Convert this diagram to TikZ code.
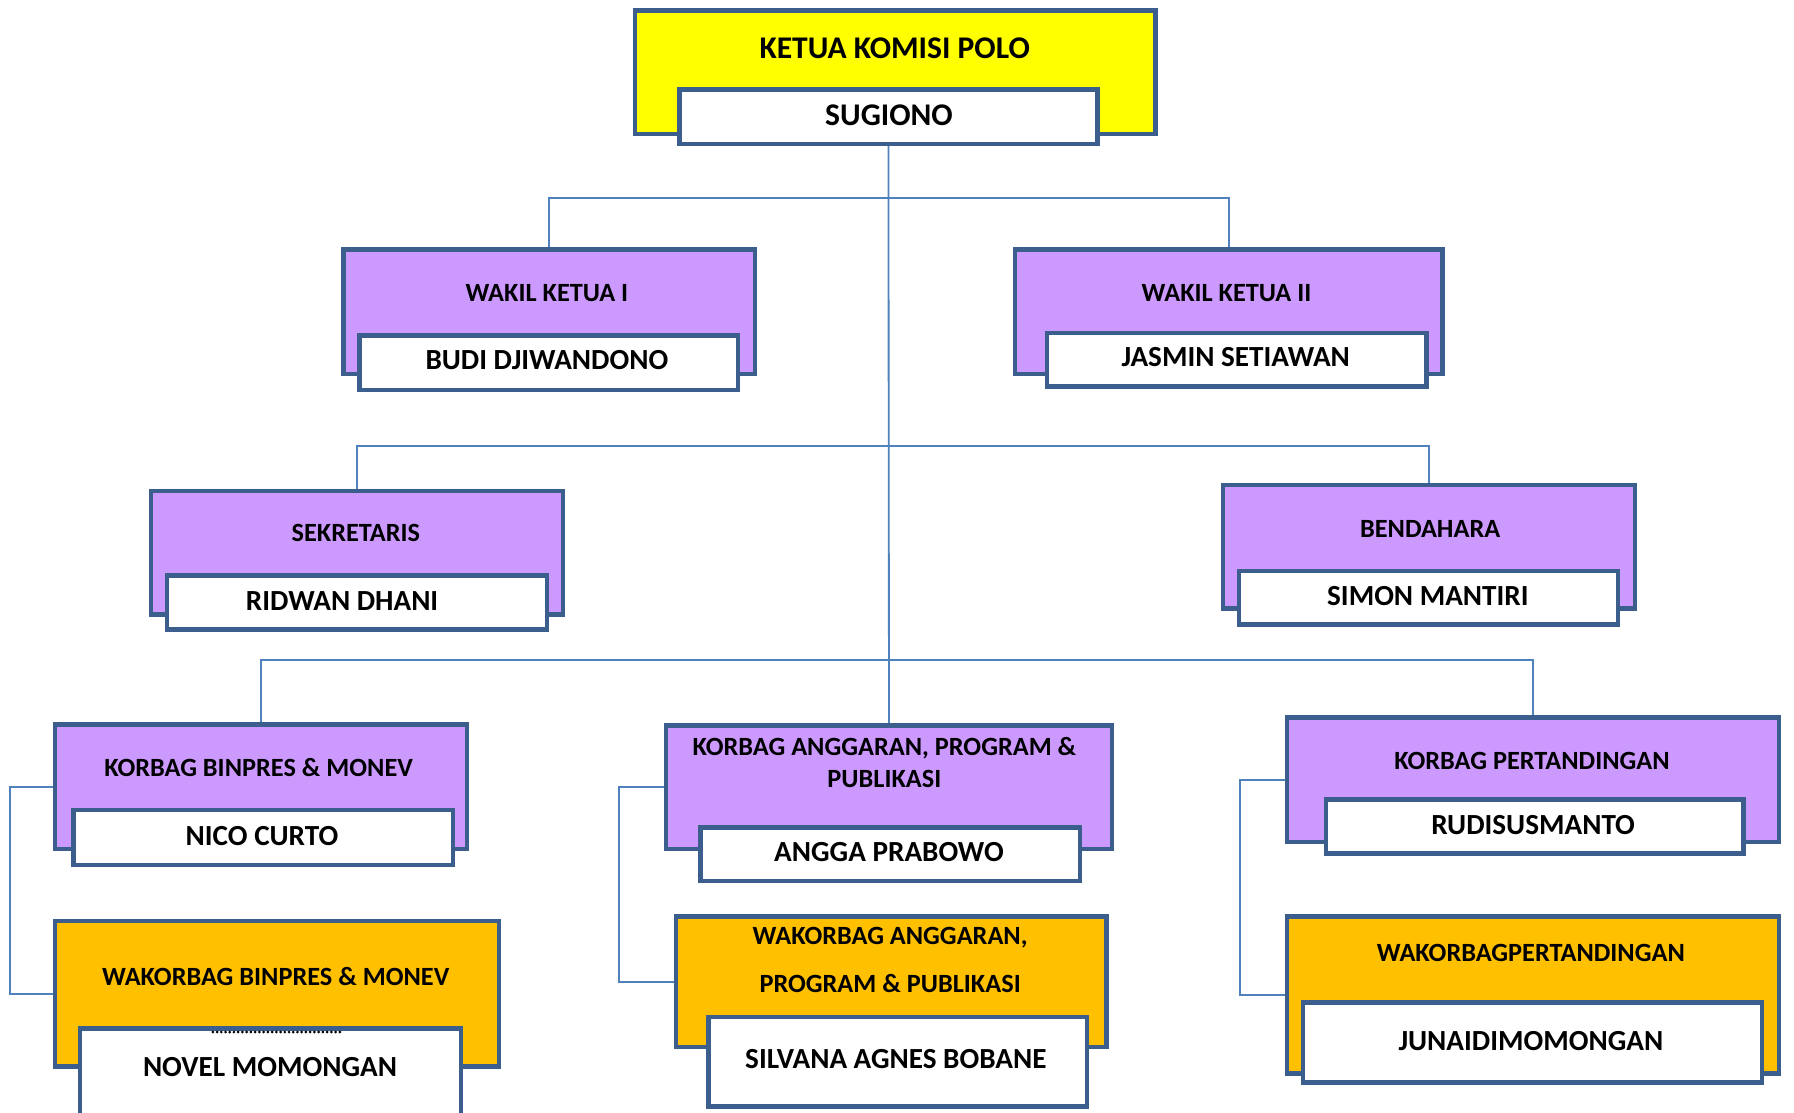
\documentclass[tikz,border=0pt]{standalone}
\usepackage{fontspec}
\setmainfont{Carlito}
\usetikzlibrary{backgrounds}
\definecolor{bord}{HTML}{3B5E8C}
\definecolor{conn}{HTML}{4F81BD}
\definecolor{purp}{HTML}{CC99FF}
\definecolor{oran}{HTML}{FFC000}
\definecolor{yell}{HTML}{FFFF00}
\newcommand\bx[6]{\node[#2, minimum width={(#5-#3-4)*1pt}, minimum height={(#6-#4-4)*1pt}] (#1) at ({(#3+#5)/2},{(#4+#6)/2}) {};}
\begin{document}
\begin{tikzpicture}[x=1pt,y=-1pt,
 outer/.style={draw=bord, line width=4pt, inner sep=0pt, outer sep=0pt},
 inner/.style={draw=bord, line width=4pt, fill=white, inner sep=0pt, outer sep=0pt},
 ttl/.style={font=\bfseries\fontsize{23}{27}\selectfont, inner sep=0pt, text height=14.8pt, text depth=0pt},
 nm/.style={font=\bfseries\fontsize{25.5}{30}\selectfont, inner sep=0pt, text height=16.4pt, text depth=0pt},
 big/.style={font=\bfseries\fontsize{27.6}{32}\selectfont, inner sep=0pt, text height=17.8pt, text depth=0pt},
 link/.style={draw=conn, line width=1.6pt}]
\clip (0,0) rectangle (1568,972);
% boxes
\bx{ketua}{outer,fill=yell}{553}{7}{1012}{119}
\bx{ketuaN}{inner}{592}{76}{961}{128}
\bx{wk1}{outer,fill=purp}{298}{216}{662}{329}
\bx{wk1N}{inner}{312}{291}{647}{343}
\bx{wk2}{outer,fill=purp}{885}{216}{1263}{329}
\bx{wk2N}{inner}{913}{289}{1249}{340}
\bx{sek}{outer,fill=purp}{130}{427}{494}{539}
\bx{sekN}{inner}{144}{501}{480}{552}
\bx{bend}{outer,fill=purp}{1067}{422}{1431}{534}
\bx{bendN}{inner}{1081}{497}{1416}{548}
\bx{kb}{outer,fill=purp}{46}{631}{410}{744}
\bx{kbN}{inner}{62}{706}{398}{758}
\bx{wkb}{outer,fill=oran}{46}{803}{438}{934}
\bx{wkbN}{inner}{68}{897}{405}{978}
\bx{ka}{outer,fill=purp}{580}{632}{974}{744}
\bx{kaN}{inner}{610}{721}{946}{772}
\bx{wka}{outer,fill=oran}{589}{799}{969}{917}
\bx{wkaN}{inner}{617}{887}{952}{969}
\bx{kp}{outer,fill=purp}{1123}{625}{1557}{738}
\bx{kpN}{inner}{1157}{697}{1526}{748}
\bx{wkp}{outer,fill=oran}{1123}{799}{1557}{940}
\bx{wkpN}{inner}{1137}{874}{1542}{948}
% texts
\node[big] (t1) at (782,42) {KETUA KOMISI POLO};
\node[big] (n1) at (777,101) {SUGIONO};
\node[ttl] (t2) at (478,256) {WAKIL KETUA I};
\node[nm] (n2) at (478,315) {BUDI DJIWANDONO};
\node[ttl] (t3) at (1072,256) {WAKIL KETUA II};
\node[nm] (n3) at (1080,312) {JASMIN SETIAWAN};
\node[ttl] (t4) at (311,466) {SEKRETARIS};
\node[nm] (n4) at (299,525) {RIDWAN DHANI};
\node[ttl] (t5) at (1250,462) {BENDAHARA};
\node[nm] (n5) at (1248,521) {SIMON MANTIRI};
\node[ttl] (t6) at (226,671) {KORBAG BINPRES \& MONEV};
\node[nm] (n6) at (229,731) {NICO CURTO};
\node[ttl] (t7) at (241,854) {WAKORBAG BINPRES \& MONEV};
\node[nm] (n7) at (236,933) {NOVEL MOMONGAN};
\node[ttl] (t8a) at (773,653) {KORBAG ANGGARAN, PROGRAM \&};
\node[ttl] (t8b) at (773,681) {PUBLIKASI};
\node[nm] (n8) at (777,745) {ANGGA PRABOWO};
\node[ttl] (t9a) at (778,818) {WAKORBAG ANGGARAN,};
\node[ttl] (t9b) at (778,860) {PROGRAM \& PUBLIKASI};
\node[nm] (n9) at (783,926) {SILVANA AGNES BOBANE};
\node[ttl] (t10) at (1339,665) {KORBAG PERTANDINGAN};
\node[nm] (n10) at (1340,721) {RUDISUSMANTO};
\node[ttl] (t11) at (1338,833) {WAKORBAGPERTANDINGAN};
\node[nm] (n11) at (1338,910) {JUNAIDIMOMONGAN};
\coordinate (d1) at (186,902);
\coordinate (d2) at (297,902);
\draw[black, line width=2.6pt, line cap=round, dash pattern=on 0pt off 3.7pt] (d1) -- (d2);
% connectors
\coordinate (j1) at (777,173);
\coordinate (j2) at (777,390);
\coordinate (j3) at (777,577);
\begin{pgfonlayer}{background}
\fill[white] (0,0) rectangle (1568,972);
\draw[link] (ketuaN.south) -- (ka.north);
\draw[link] (wk1.north) -- (wk1.north |- j1) -| (wk2.north);
\draw[link] (sek.north) -- (sek.north |- j2) -| (bend.north);
\draw[link] (kb.north) -- (kb.north |- j3) -| (kp.north);
\draw[link] (kb.west) -- ++(-39,0) |- (wkb.west);
\draw[link] (ka.west) -- ++(-41,0) |- (wka.west);
\draw[link] (kp.west) -- ++(-41,0) |- (wkp.west);
\end{pgfonlayer}
\end{tikzpicture}
\end{document}
